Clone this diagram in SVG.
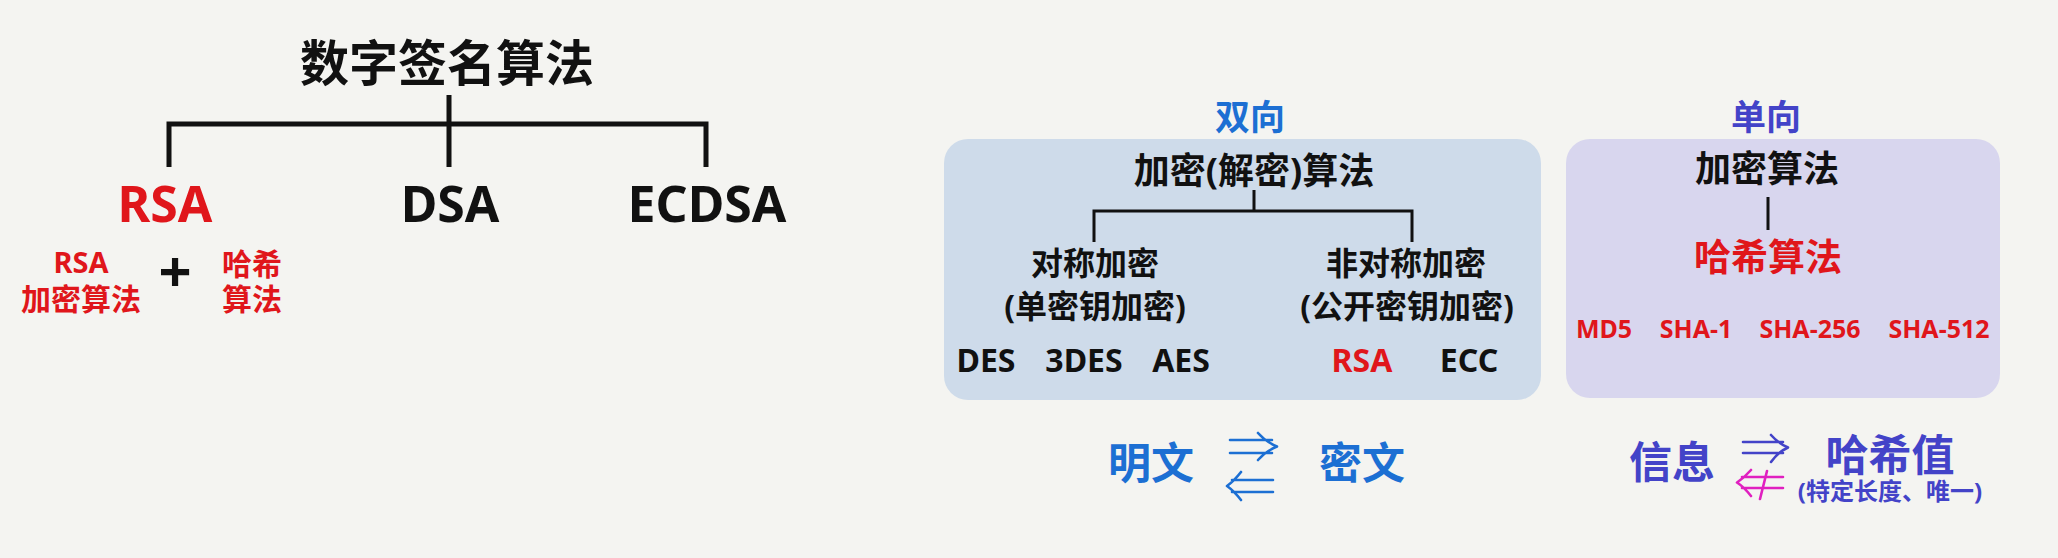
<svg xmlns="http://www.w3.org/2000/svg" width="2058" height="558" viewBox="0 0 2058 558">
<style>
text{font-family:"Noto Sans","Noto Sans CJK SC",sans-serif;font-weight:700;text-anchor:middle;fill:#111}
.red{fill:#e0161b}
.blue{fill:#1c6fd3}
.purple{fill:#4343c8}
.ln{fill:none;stroke:#111;stroke-linejoin:miter;stroke-linecap:butt}
.arr{fill:none;stroke-width:2.6;stroke-linecap:round;stroke-linejoin:round}
</style>
<rect width="2058" height="558" fill="#f4f4f1"/>

<g id="panel-bi">
  <rect x="944" y="139" width="597" height="261" rx="24" fill="#cedbea"/>
  <text class="blue" x="1250" y="130" font-size="35">双向</text>
</g>
<g id="panel-uni">
  <rect x="1566" y="139" width="434" height="259" rx="24" fill="#d8d6ee"/>
  <text class="purple" x="1766" y="130" font-size="35">单向</text>
</g>

<g id="connectors">
  <path class="ln" stroke-width="5" d="M449,95 V167 M169,167 V124 H706 V167"/>
  <path class="ln" stroke-width="3" d="M1254,190 V211 M1094,242 V211 H1412 V242"/>
  <path class="ln" stroke-width="3" d="M1768,197 V230"/>
</g>

<g id="title"><text x="447" y="81" font-size="49">数字签名算法</text></g>
<g id="rsa"><text class="red" x="165" y="222" font-size="50">RSA</text></g>
<g id="dsa"><text x="450" y="222" font-size="50">DSA</text></g>
<g id="ecdsa"><text x="707" y="222" font-size="50">ECDSA</text></g>
<g id="rsa-enc">
  <text class="red" x="81" y="273" font-size="29">RSA</text>
  <text class="red" x="81" y="310" font-size="30">加密算法</text>
</g>
<g id="plus"><text x="175" y="292" font-size="58">+</text></g>
<g id="hash-alg">
  <text class="red" x="252" y="275" font-size="30">哈希</text>
  <text class="red" x="252" y="310" font-size="30">算法</text>
</g>

<g id="enc-dec"><text x="1254" y="184" font-size="36">加密(解密)算法</text></g>
<g id="sym">
  <text x="1095" y="275" font-size="32">对称加密</text>
  <text x="1095" y="318" font-size="32">(单密钥加密)</text>
</g>
<g id="asym">
  <text x="1406" y="275" font-size="32">非对称加密</text>
  <text x="1407" y="318" font-size="32">(公开密钥加密)</text>
</g>
<g id="sym-algs">
  <text x="986" y="372" font-size="32">DES</text>
  <text x="1084" y="372" font-size="32">3DES</text>
  <text x="1181" y="372" font-size="32">AES</text>
</g>
<g id="asym-algs">
  <text class="red" x="1362" y="372" font-size="32">RSA</text>
  <text x="1469" y="372" font-size="32">ECC</text>
</g>

<g id="enc"><text x="1767" y="182" font-size="36">加密算法</text></g>
<g id="hash">
  <text class="red" x="1768" y="271" font-size="37">哈希算法</text>
</g>
<g id="hash-list">
  <text class="red" x="1604" y="338" font-size="25">MD5</text>
  <text class="red" x="1696" y="338" font-size="25">SHA-1</text>
  <text class="red" x="1810" y="338" font-size="25">SHA-256</text>
  <text class="red" x="1939" y="338" font-size="25">SHA-512</text>
</g>

<g id="plain"><text class="blue" x="1151" y="479" font-size="43">明文</text></g>
<g id="cipher"><text class="blue" x="1362" y="479" font-size="43">密文</text></g>
<g id="arrows-bi">
  <path class="arr" stroke="#1c6fd3" d="M1230,440 H1272 M1230,453 H1272 M1258,433 Q1266,442 1277,446.5 Q1266,451 1258,460"/>
  <path class="arr" stroke="#1c6fd3" d="M1273,480 H1232 M1273,492 H1232 M1241,472 Q1234,481 1227,486 Q1234,491 1241,500"/>
</g>

<g id="info"><text class="purple" x="1672" y="478" font-size="43">信息</text></g>
<g id="hashval">
  <text class="purple" x="1890" y="471" font-size="43">哈希值</text>
  <text class="purple" x="1890" y="500" font-size="24">(特定长度、唯一)</text>
</g>
<g id="arrows-uni">
  <path class="arr" stroke="#4343c8" d="M1743,442 H1783 M1743,453 H1783 M1771,435 Q1778,443 1788,447.5 Q1778,452 1771,462"/>
  <path class="arr" stroke="#e020c0" d="M1783,477 H1742 M1783,488 H1742 M1751,470 Q1744,478 1737,482.5 Q1744,487 1751,496 M1767,471 L1760,499"/>
</g>
</svg>
